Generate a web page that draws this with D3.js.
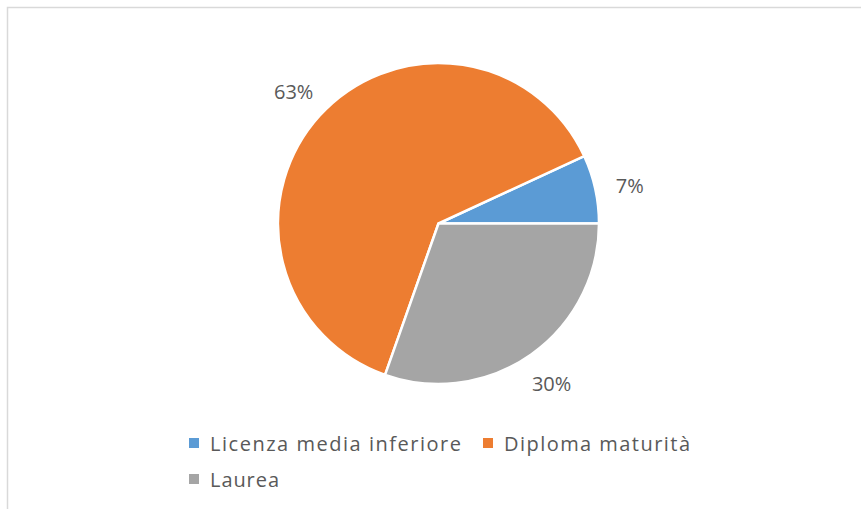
<!DOCTYPE html>
<html>
<head>
<meta charset="utf-8">
<script src="https://cdn.jsdelivr.net/npm/d3@7"></script>
<style>
  html, body { margin: 0; padding: 0; background: #fff; }
  svg { display: block; }
</style>
</head>
<body>
<div id="chart-container"></div>
<script>
const WIDTH = 861;
const HEIGHT = 509;

// data (shares; labels show them rounded)
const categories = ["Licenza media inferiore", "Diploma maturità", "Laurea"];
const values = [6.9, 62.7, 30.4];
const colors = ["#5B9BD5", "#ED7D31", "#A5A5A5"];

const CENTER = { x: 438.5, y: 223.5 };
const RADIUS = 160.5;

const svg = d3.select("#chart-container").append("svg")
  .attr("width", WIDTH)
  .attr("height", HEIGHT);

// chart area border (only top/left visible in the crop)
svg.append("rect")
  .attr("x", 7.5)
  .attr("y", 7.5)
  .attr("width", WIDTH + 20)
  .attr("height", HEIGHT + 20)
  .attr("fill", "none")
  .attr("stroke", "#D9D9D9")
  .attr("stroke-width", 1.5);

const data = categories.map((c, i) => ({ name: c, value: values[i], color: colors[i] }));

// slices run counter-clockwise from 3 o'clock
const pie = d3.pie()
  .sort(null)
  .value(d => d.value)
  .startAngle(Math.PI / 2)
  .endAngle(Math.PI / 2 - 2 * Math.PI);

const arc = d3.arc().innerRadius(0).outerRadius(RADIUS);
const labelArc = d3.arc().innerRadius(RADIUS * 1.22).outerRadius(RADIUS * 1.22);

const g = svg.append("g")
  .attr("transform", `translate(${CENTER.x},${CENTER.y})`);

const arcs = pie(data);

g.selectAll("path.slice")
  .data(arcs)
  .enter().append("path")
  .attr("class", "slice")
  .attr("d", arc)
  .attr("fill", d => d.data.color)
  .attr("stroke", "#fff")
  .attr("stroke-width", 2.5)
  .attr("stroke-linejoin", "round");

const total = d3.sum(values);

g.selectAll("text.label")
  .data(arcs)
  .enter().append("text")
  .attr("class", "label")
  .attr("transform", d => `translate(${labelArc.centroid(d)})`)
  .attr("text-anchor", "middle")
  .attr("dy", (d, i) => i === 0 ? "0.6em" : "0.36em")
  .style("font-family", "'Open Sans', sans-serif")
  .style("font-size", "20px")
  .style("fill", "#595959")
  .text(d => Math.round(d.data.value / total * 100) + "%");

// legend
const legendItems = [
  { x: 189, y: 438, tx: 210, tw: 251 },
  { x: 483, y: 438, tx: 504, tw: 186 },
  { x: 189, y: 474, tx: 210, tw: 69 }
];

const legend = svg.append("g").attr("class", "legend");

const items = legend.selectAll("g")
  .data(data)
  .enter().append("g");

items.append("rect")
  .attr("x", (d, i) => legendItems[i].x)
  .attr("y", (d, i) => legendItems[i].y)
  .attr("width", 10)
  .attr("height", 10)
  .attr("fill", d => d.color);

items.append("text")
  .attr("x", (d, i) => legendItems[i].tx)
  .attr("y", (d, i) => legendItems[i].y + 12.7)
  .attr("textLength", (d, i) => legendItems[i].tw)
  .attr("lengthAdjust", "spacing")
  .style("font-family", "'Open Sans', sans-serif")
  .style("font-size", "20px")
  .style("fill", "#595959")
  .text(d => d.name);
</script>
</body>
</html>
